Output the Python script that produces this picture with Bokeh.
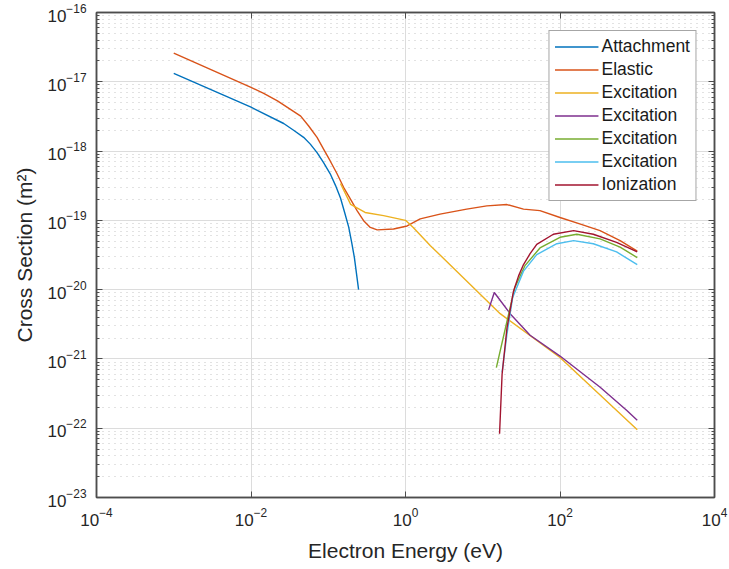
from bokeh.plotting import figure
from bokeh.models import (Range1d, FixedTicker, LogTickFormatter, CustomJSTickFormatter, LogAxis,
                          Legend, LegendItem)
from bokeh.embed import file_html
from bokeh.resources import INLINE

# ---- data ----
attach_x = [1e-3, 1e-2, 0.0265, 0.0356, 0.048, 0.0586, 0.0716, 0.087, 0.106, 0.124, 0.144,
            0.163, 0.184, 0.201, 0.218, 0.247]
attach_y = [1.32e-17, 4.3e-18, 2.5e-18, 2.0e-18, 1.58e-18, 1.26e-18, 9.5e-19, 6.8e-19, 4.7e-19,
            3.2e-19, 2.1e-19, 1.3e-19, 8e-20, 4.8e-20, 2.9e-20, 1e-20]

elastic_x = [1e-3, 1e-2, 0.0146, 0.022, 0.0324, 0.044, 0.0558, 0.0716, 0.087, 0.106, 0.130,
             0.158, 0.193, 0.236, 0.287, 0.35, 0.43, 0.70, 1.05, 1.55, 2.8, 6.2, 11.3, 20.6,
             33.7, 55, 100, 180, 330, 600, 1000]
elastic_y = [2.6e-17, 8.3e-18, 6.8e-18, 5.3e-18, 4.0e-18, 3.2e-18, 2.3e-18, 1.58e-18, 1.07e-18,
             7.2e-19, 4.7e-19, 3e-19, 2.04e-19, 1.38e-19, 9.9e-20, 7.9e-20, 7.3e-20, 7.5e-20,
             8.3e-20, 1.05e-19, 1.23e-19, 1.45e-19, 1.62e-19, 1.69e-19, 1.45e-19, 1.38e-19,
             1.1e-19, 8.9e-20, 7.1e-20, 5.1e-20, 3.6e-20]

exc1_x = [0.144, 0.195, 0.30, 0.52, 1.0, 1.26, 2.1, 2.55, 16.8, 100, 1000]
exc1_y = [3.4e-19, 1.7e-19, 1.3e-19, 1.17e-19, 1e-19, 7.9e-20, 4.3e-20, 3.5e-20, 4.5e-21, 1.05e-21, 9.5e-23]

exc2_x = [11.9, 14.1, 22.6, 41, 100, 331, 733, 1000]
exc2_y = [5.1e-21, 9.1e-21, 4.5e-21, 2.2e-21, 1.1e-21, 3.9e-22, 1.8e-22, 1.3e-22]

exc3_x = [15, 20.6, 26, 35, 55, 100, 165, 330, 600, 1000]
exc3_y = [7.5e-22, 3.5e-21, 1.07e-20, 2.2e-20, 4e-20, 5.7e-20, 6.3e-20, 5.4e-20, 4.1e-20, 2.9e-20]

exc4_x = [17.8, 20.6, 24.4, 33.7, 50, 91, 150, 270, 540, 1000]
exc4_y = [6.4e-22, 2.3e-21, 7.7e-21, 1.85e-20, 3.2e-20, 4.6e-20, 5.1e-20, 4.6e-20, 3.5e-20, 2.3e-20]

ion_x = [16.5, 17.8, 20.6, 25, 29.1, 33.7, 41, 50, 82, 150, 270, 540, 1000]
ion_y = [8.3e-23, 6e-22, 2.8e-21, 9.5e-21, 1.58e-20, 2.3e-20, 3.3e-20, 4.5e-20, 6.3e-20, 7.1e-20,
         6.3e-20, 4.8e-20, 3.5e-20]

series_names = ["Attachment", "Elastic", "Excitation", "Excitation", "Excitation", "Excitation", "Ionization"]
series_x = [attach_x, elastic_x, exc1_x, exc2_x, exc3_x, exc4_x, ion_x]
series_y = [attach_y, elastic_y, exc1_y, exc2_y, exc3_y, exc4_y, ion_y]
colors = ["#0072BD", "#D95319", "#EDB120", "#7E2F8E", "#77AC30", "#4DBEEE", "#A2142F"]

x_ticks = [1e-4, 1e-2, 1e0, 1e2, 1e4]
y_ticks = [10.0 ** e for e in range(-23, -15)]
y_minor = [m * 10.0 ** e for e in range(-23, -16) for m in range(2, 10)]

FONT = "Liberation Sans"
TXT = "#262626"
AX = "#4d4d4d"

p = figure(width=729, height=569, x_axis_type="log", y_axis_type="log",
           x_range=Range1d(1e-4, 1e4), y_range=Range1d(1e-23, 1e-16),
           output_backend="svg", toolbar_location=None,
           min_border_left=96, min_border_right=15, min_border_top=12, min_border_bottom=72,
           background_fill_color="white", border_fill_color="white")

p.outline_line_color = AX
p.outline_line_width = 1.5

xax = p.xaxis[0]
xax.ticker = FixedTicker(ticks=x_ticks, minor_ticks=[])
xax.formatter = LogTickFormatter()
yax = p.yaxis[0]
yax.ticker = FixedTicker(ticks=y_ticks, minor_ticks=y_minor)
yax.formatter = LogTickFormatter()

for ax in (xax, yax):
    ax.major_tick_in = 6
    ax.major_tick_out = 0
    ax.minor_tick_in = 3
    ax.minor_tick_out = 0
    ax.axis_line_color = AX
    ax.axis_line_width = 1.5
    ax.major_tick_line_color = AX
    ax.minor_tick_line_color = AX
    ax.major_label_text_font = FONT
    ax.major_label_text_font_size = "17px"
    ax.major_label_text_color = TXT
    ax.axis_label_text_font = FONT
    ax.axis_label_text_font_size = "21px"
    ax.axis_label_text_font_style = "normal"
    ax.axis_label_text_color = TXT

xax.axis_label = "Electron Energy (eV)"
xax.major_label_standoff = 10
xax.axis_label_standoff = 10
yax.axis_label = "Cross Section (m\u00b2)"
yax.major_label_standoff = 10
yax.axis_label_standoff = 8

blank = CustomJSTickFormatter(code="return ''")
top = LogAxis(ticker=FixedTicker(ticks=x_ticks, minor_ticks=[]), formatter=blank)
right = LogAxis(ticker=FixedTicker(ticks=y_ticks, minor_ticks=y_minor), formatter=blank)
for ax in (top, right):
    ax.major_tick_in = 6
    ax.major_tick_out = 0
    ax.minor_tick_in = 3
    ax.minor_tick_out = 0
    ax.axis_line_color = AX
    ax.axis_line_width = 1.5
    ax.major_tick_line_color = AX
    ax.minor_tick_line_color = AX
    ax.major_label_standoff = 0
    ax.major_label_text_font_size = "0px"
    ax.axis_label_standoff = 0
p.add_layout(top, "above")
p.add_layout(right, "right")

p.xgrid.ticker = FixedTicker(ticks=x_ticks, minor_ticks=[])
p.xgrid.grid_line_color = "#dcdcdc"
p.xgrid.grid_line_width = 1
p.ygrid.ticker = FixedTicker(ticks=y_ticks, minor_ticks=y_minor)
p.ygrid.grid_line_color = "#dcdcdc"
p.ygrid.minor_grid_line_color = "#c4c4c4"
p.ygrid.minor_grid_line_dash = "1 5"
p.ygrid.minor_grid_line_width = 1

items = []
for name, xs, ys, c in zip(series_names, series_x, series_y, colors):
    r = p.line(xs, ys, line_color=c, line_width=1.4)
    items.append(LegendItem(label=name, renderers=[r]))

legend = Legend(items=items, location="top_right")
legend.margin = 18
legend.padding = 5
legend.spacing = 2
legend.glyph_width = 44
legend.glyph_height = 21
legend.label_height = 21
legend.label_standoff = 3
legend.label_text_font = FONT
legend.label_text_font_size = "17.5px"
legend.label_text_color = "#1a1a1a"
legend.border_line_color = AX
legend.border_line_width = 1.5
legend.background_fill_color = "white"
legend.background_fill_alpha = 1
p.add_layout(legend, "center")

open("out.html", "w").write(file_html(p, INLINE))
